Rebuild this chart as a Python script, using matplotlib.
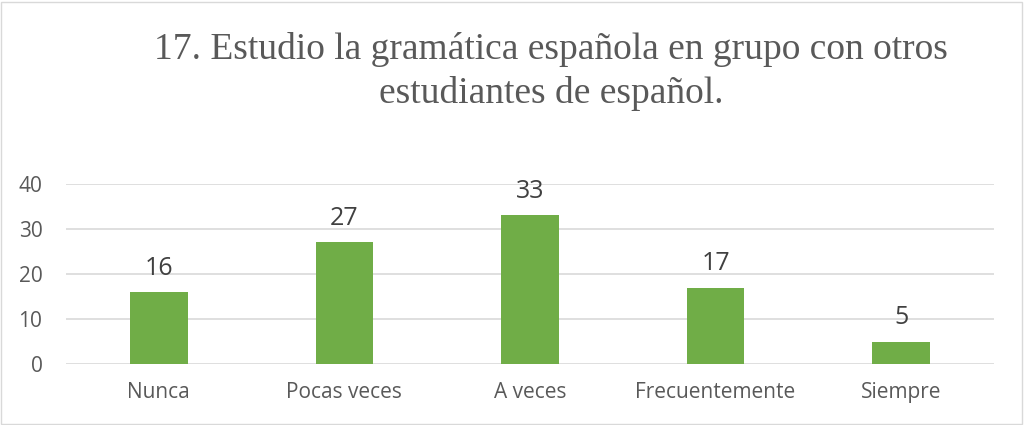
import matplotlib.pyplot as plt
from matplotlib.patches import Rectangle

categories = ["Nunca", "Pocas veces", "A veces", "Frecuentemente", "Siempre"]
values = [16, 27, 33, 17, 5]
yticks = [0, 10, 20, 30, 40]
title = "17. Estudio la gramática española en grupo con otros\nestudiantes de español."

W, H = 1024, 425
fig = plt.figure(figsize=(W / 100, H / 100), dpi=100)
fig.patch.set_facecolor("white")

# thin frame around the chart area
fig.add_artist(Rectangle((1 / W, 1 / H), 1 - 3 / W, 1 - 3 / H, transform=fig.transFigure,
                         fill=False, edgecolor="#D9D9D9", linewidth=1.0))

left, right = 66 / W, 994 / W
bottom, top = 1 - 364 / H, 1 - 184 / H
ax = fig.add_axes([left, bottom, right - left, top - bottom])

x = list(range(len(categories)))
ax.bar(x, values, width=0.31, color="#70AD47", zorder=3)
ax.set_xlim(-0.5, len(categories) - 0.5)
ax.set_ylim(0, 40)
ax.set_yticks(yticks)
ax.yaxis.grid(True, color="#D9D9D9", linewidth=1.2, zorder=0)
ax.set_axisbelow(True)
for s in ax.spines.values():
    s.set_visible(False)
ax.tick_params(axis="both", length=0, labelsize=15, labelcolor="#595959", labelfontfamily="Open Sans")
ax.tick_params(axis="y", pad=17)
ax.tick_params(axis="x", pad=13)
ax.set_xticks(x)
ax.set_xticklabels(categories)

for xi, v in zip(x, values):
    ax.annotate(str(v), (xi, v), xytext=(0, 8), textcoords="offset points",
                ha="center", va="bottom", fontsize=18, color="#404040", family="Open Sans")

fig.text(551 / W, 1 - 32 / H, title, ha="center", va="top", fontsize=27,
         family="Liberation Serif", color="#595959", linespacing=1.32)

fig.savefig("out.png", dpi=100)
